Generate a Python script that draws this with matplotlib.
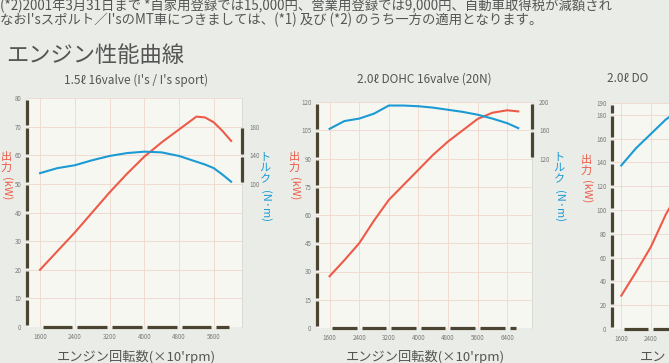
import matplotlib
matplotlib.use("Agg")
import matplotlib.pyplot as plt

plt.rcParams['font.family'] = ['Noto Sans CJK JP', 'DejaVu Sans']

# ---------------- data ----------------
rpm_15 = [1600, 2000, 2400, 2800, 3200, 3600, 4000, 4400, 4800, 5200, 5400, 5600, 5800, 6000]
kw_15 = [20, 26.5, 33, 40, 47, 53.5, 59.5, 64.5, 69, 73.5, 73.2, 71.5, 68.5, 65]
nm_15 = [115, 122, 126, 133, 139, 143, 145, 144, 139, 131, 127, 122, 113, 103]

rpm_20 = [1600, 2000, 2400, 2800, 3200, 3600, 4000, 4400, 4800, 5200, 5600, 6000, 6400, 6700]
kw_20 = [27.5, 36, 45, 57, 68, 76, 84, 92, 99, 105, 111, 114.3, 115.6, 115]
nm_20 = [162, 173, 176.5, 183.5, 195, 195, 194, 192, 189, 186, 182, 176.5, 170, 163]

rpm_3 = [1600, 2000, 2400, 2800, 3200]
kw_3 = [28, 48, 69, 96, 118]
nm_3 = [275, 304, 328, 352, 370]

xt_15 = [1600, 2400, 3200, 4000, 4800, 5600]
xt_20 = [1600, 2400, 3200, 4000, 4800, 5600, 6400]
xt_3 = [1600, 2400]
yt_15 = [0, 10, 20, 30, 40, 50, 60, 70, 80]
yt_20 = [0, 15, 30, 45, 60, 75, 90, 105, 120]
yt_3 = [0, 20, 40, 60, 80, 100, 120, 140, 160, 180, 190]
tt_15 = [100, 140, 180]
tt_20 = [120, 160, 200]

title_15 = "1.5ℓ 16valve (I's / I's sport)"
title_20 = "2.0ℓ DOHC 16valve (20N)"
title_3 = "2.0ℓ DO"
heading = "エンジン性能曲線"
note1 = "(*2)2001年3月31日まで *自家用登録では15,000円、営業用登録では9,000円、自動車取得税が減額され"
note2 = "なおI'sスポルト／I'sのMT車につきましては、(*1) 及び (*2) のうち一方の適用となります。"
xlabel = "エンジン回転数(×10'rpm)"
xlabel_3 = "エン"

# ---------------- style ----------------
W, H = 669, 363
RED = '#ee5a48'
BLUE = '#1b9ad4'
SPINE = '#4a4431'
GRID = '#efd6cc'
TXT = '#555555'
TICK = '#7a7a7a'

fig = plt.figure(figsize=(W / 100, H / 100), dpi=100)
fig.patch.set_facecolor('#eaede7')


def px_axes(l, t, r, b):
    return fig.add_axes([l / W, 1 - b / H, (r - l) / W, (b - t) / H])


def ftext(x, y, s, **kw):
    fig.text(x / W, 1 - y / H, s, **kw)


def seg_y(ax, ticks, pos, hpx):
    lo, hi = ax.get_ylim()
    g = 1.6 / hpx * (hi - lo)
    for a, b in zip(ticks[:-1], ticks[1:]):
        ax.plot([pos, pos], [a + g, b - g], transform=ax.get_yaxis_transform(),
                color=SPINE, lw=2.3, solid_capstyle='butt', clip_on=False, zorder=5)


def seg_x(ax, ticks, wpx):
    lo, hi = ax.get_xlim()
    g = 2.5 / wpx * (hi - lo)
    for a, b in zip(ticks[:-1], ticks[1:]):
        ax.plot([a + g, b - g], [0, 0], transform=ax.get_xaxis_transform(),
                color=SPINE, lw=2.3, solid_capstyle='butt', clip_on=False, zorder=5)


def make_chart(box, xlim, ylim, xt, yt, rpm, kw, nm, tlim, tt, bottom_ticks):
    l, t, r, b = box
    ax = px_axes(l, t, r, b)
    ax.set_facecolor('#f7f7f2')
    ax.set_xlim(*xlim)
    ax.set_ylim(*ylim)
    ax.set_xticks(xt)
    ax.set_yticks(yt)
    ax.set_xticklabels([str(v) for v in xt])
    ax.set_yticklabels([str(v) for v in yt])
    ax.tick_params(length=0, labelsize=4.5, colors=TICK, pad=4)
    ax.grid(True, color=GRID, lw=0.6)
    for s in ax.spines.values():
        s.set_visible(False)
    ax.spines['right'].set_visible(True)
    ax.spines['right'].set_color('#d8d8d4')
    ax.spines['right'].set_linewidth(0.6)
    ax.plot(rpm, kw, color=RED, lw=1.5, zorder=4)
    seg_y(ax, yt, 0, b - t)
    seg_x(ax, bottom_ticks, r - l)

    tx = ax.twinx()
    tx.set_ylim(*tlim)
    for s in tx.spines.values():
        s.set_visible(False)
    tx.plot(rpm, nm, color=BLUE, lw=1.5, zorder=4)
    if tt:
        tx.set_yticks(tt)
        tx.set_yticklabels([str(v) for v in tt])
        tx.tick_params(length=0, labelsize=4.5, colors=TICK, pad=5)
        seg_y(tx, tt, 1, b - t)
    else:
        tx.set_yticks([])
    return ax


make_chart((27, 98, 242, 327), (1300, 6250), (0, 80), xt_15, yt_15,
           rpm_15, kw_15, nm_15, (-100, 220), tt_15, xt_15 + [6000])
make_chart((317, 102, 532, 328), (1260, 7070), (0, 120), xt_20, yt_20,
           rpm_20, kw_20, nm_20, (-120, 200), tt_20, xt_20 + [6700])
make_chart((612, 103, 827, 329), (1350, 7160), (0, 190), xt_3, yt_3,
           rpm_3, kw_3, nm_3, (0, 380), None, [1600, 2400, 3200, 4000])

# ---------------- texts ----------------
ftext(0, 6, note1, fontsize=9.6, color=TXT, va='center', ha='left')
ftext(0, 20, note2, fontsize=9.6, color=TXT, va='center', ha='left')
ftext(6, 55, heading, fontsize=16, color=TXT, va='center', ha='left')

ftext(136, 80, title_15, fontsize=8.5, color=TXT, va='center', ha='center')
ftext(424, 79, title_20, fontsize=8.5, color=TXT, va='center', ha='center')
ftext(607, 79, title_3, fontsize=8.5, color=TXT, va='center', ha='left')

for cx in (136, 425):
    ftext(cx, 357, xlabel, fontsize=9.5, color=TXT, va='center', ha='center')
ftext(640, 357, xlabel_3, fontsize=9.5, color=TXT, va='center', ha='left')


def vlabel(x, y, jp, paren, color):
    ftext(x, y, '\n'.join(jp), fontsize=8, color=color, va='top', ha='center',
          linespacing=1.15)
    ftext(x, y + 12.5 * len(jp), paren, fontsize=8, color=color, va='top',
          ha='center', rotation=-90)


vlabel(6, 152, '出力', '(kW)', RED)
vlabel(294, 152, '出力', '(kW)', RED)
vlabel(586, 155, '出力', '(kW)', RED)
vlabel(265, 152, 'トルク', '(N·m)', BLUE)
vlabel(559, 152, 'トルク', '(N·m)', BLUE)

fig.savefig('out.png', dpi=100, facecolor=fig.get_facecolor())
